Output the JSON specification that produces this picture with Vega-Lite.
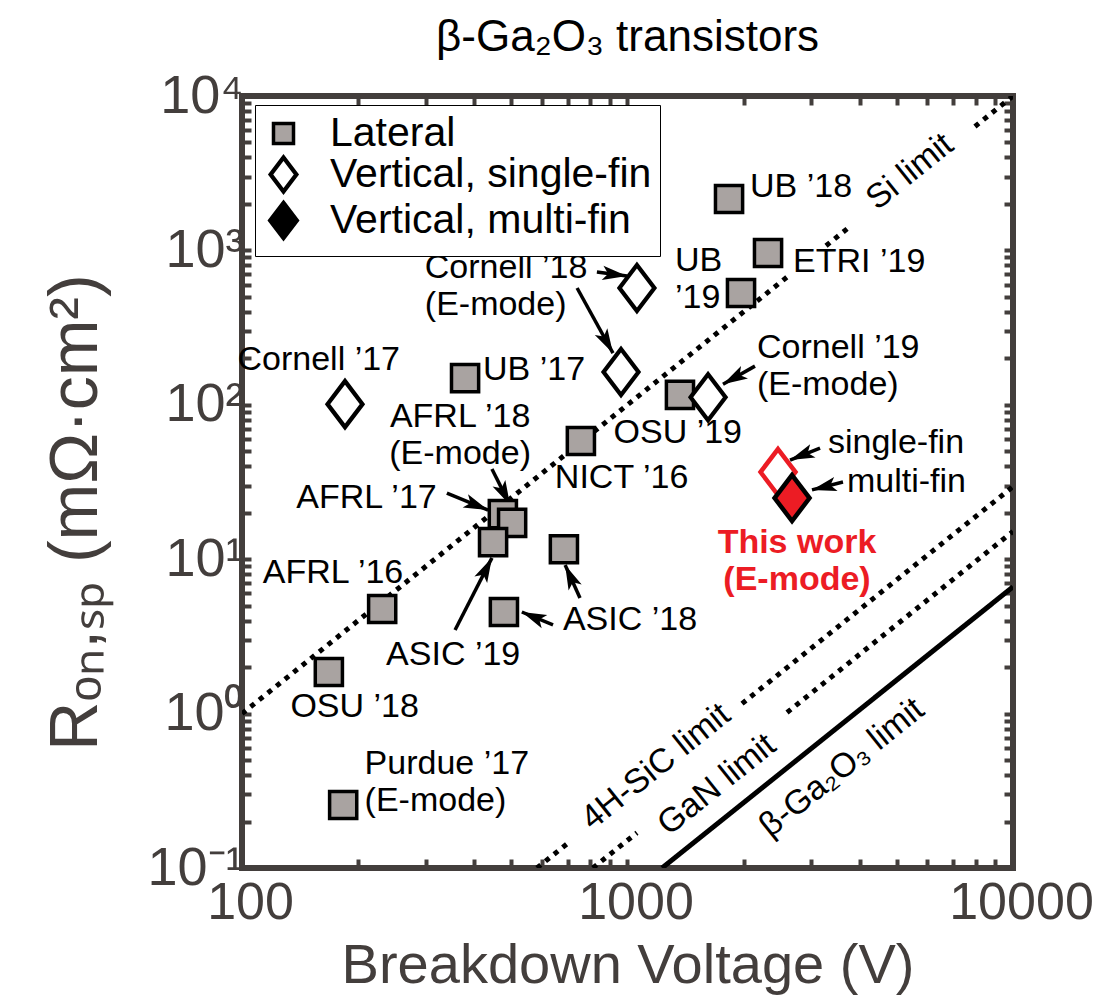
{
  "$schema": "https://vega.github.io/schema/vega-lite/v6.json",
  "width": 771,
  "height": 772,
  "autosize": "none",
  "padding": {"left": 242, "top": 96, "right": 90, "bottom": 136},
  "background": "white",
  "title": {"text": "β-Ga₂O₃ transistors", "fontSize": 44, "fontWeight": "normal", "font": "Liberation Sans", "color": "black", "offset": 9, "anchor": "middle"},
  "config": {
    "view": {"stroke": "#433e3c", "strokeWidth": 6},
    "font": "Liberation Sans"
  },
  "datasets": {
    "lines": [
      {"m": "Si", "seg": "Si1", "V": 100, "R": 1},
      {"m": "Si", "seg": "Si1", "V": 2640, "R": 697},
      {"m": "Si", "seg": "Si2", "V": 3273, "R": 1071},
      {"m": "Si", "seg": "Si2", "V": 3777, "R": 1427},
      {"m": "Si", "seg": "Si3", "V": 7966, "R": 6346},
      {"m": "Si", "seg": "Si3", "V": 10000, "R": 10000},
      {"m": "4H-SiC", "seg": "SiC1", "V": 582, "R": 0.1},
      {"m": "4H-SiC", "seg": "SiC1", "V": 713, "R": 0.150},
      {"m": "4H-SiC", "seg": "SiC2", "V": 1982, "R": 1.160},
      {"m": "4H-SiC", "seg": "SiC2", "V": 10000, "R": 29.52},
      {"m": "GaN", "seg": "GaN1", "V": 813, "R": 0.1},
      {"m": "GaN", "seg": "GaN1", "V": 1058, "R": 0.169},
      {"m": "GaN", "seg": "GaN2", "V": 2593, "R": 1.017},
      {"m": "GaN", "seg": "GaN2", "V": 10000, "R": 15.13},
      {"m": "Ga2O3", "seg": "Ga1", "V": 1229, "R": 0.1},
      {"m": "Ga2O3", "seg": "Ga1", "V": 10000, "R": 6.62}
    ],
    "points": [
      {"name": "UB ’18", "type": "Lateral", "V": 1834, "R": 2152},
      {"name": "ETRI ’19", "type": "Lateral", "V": 2315, "R": 962},
      {"name": "UB ’19", "type": "Lateral", "V": 1970, "R": 530},
      {"name": "UB ’17", "type": "Lateral", "V": 379, "R": 149},
      {"name": "OSU ’19", "type": "Lateral", "V": 1368, "R": 116},
      {"name": "NICT ’16", "type": "Lateral", "V": 757, "R": 58.3},
      {"name": "AFRL ’17", "type": "Lateral", "V": 475, "R": 19.6},
      {"name": "AFRL ’18", "type": "Lateral", "V": 502, "R": 17.2},
      {"name": "ASIC ’19", "type": "Lateral", "V": 448, "R": 12.9},
      {"name": "ASIC ’18", "type": "Lateral", "V": 684, "R": 11.6},
      {"name": "ASIC ’18", "type": "Lateral", "V": 478, "R": 4.55},
      {"name": "AFRL ’16", "type": "Lateral", "V": 231, "R": 4.76},
      {"name": "OSU ’18", "type": "Lateral", "V": 168, "R": 1.86},
      {"name": "Purdue ’17", "type": "Lateral", "V": 183, "R": 0.256},
      {"name": "Cornell ’17", "type": "Vertical, single-fin", "V": 185, "R": 101},
      {"name": "Cornell ’18", "type": "Vertical, single-fin", "V": 1058, "R": 571},
      {"name": "Cornell ’18", "type": "Vertical, single-fin", "V": 962, "R": 163},
      {"name": "Cornell ’19", "type": "Vertical, single-fin", "V": 1618, "R": 112}
    ],
    "thiswork": [
      {"type": "Vertical, single-fin", "V": 2457, "R": 36.7},
      {"type": "Vertical, multi-fin", "V": 2672, "R": 24.9}
    ],
    "arrows": [
      {"V1": 833, "R1": 725, "V2": 997, "R2": 683, "ang": 97},
      {"V1": 740, "R1": 571, "V2": 917, "R2": 216, "ang": 151},
      {"V1": 2141, "R1": 178, "V2": 1769, "R2": 136, "ang": -119},
      {"V1": 340, "R1": 26.8, "V2": 435, "R2": 20.8, "ang": 112},
      {"V1": 445, "R1": 38.4, "V2": 496, "R2": 22.4, "ang": 153},
      {"V1": 357, "R1": 3.48, "V2": 445, "R2": 10.2, "ang": 27},
      {"V1": 753, "R1": 5.61, "V2": 689, "R2": 9.17, "ang": -24},
      {"V1": 641, "R1": 3.75, "V2": 532, "R2": 4.55, "ang": -67},
      {"V1": 3158, "R1": 52.5, "V2": 2640, "R2": 43.9, "ang": -112},
      {"V1": 3622, "R1": 31.6, "V2": 3010, "R2": 28.1, "ang": -104}
    ],
    "labels": [
      {"label": "UB ’18", "pos": "left", "V": 2079, "R": 2574},
      {"label": "ETRI ’19", "pos": "left", "V": 2688, "R": 841},
      {"label": ["UB", "’19"], "pos": "left", "V": 1328, "R": 848},
      {"label": ["Cornell ’18", "(E-mode)"], "pos": "left", "V": 298, "R": 770},
      {"label": "UB ’17", "pos": "left", "V": 422, "R": 168},
      {"label": ["Cornell ’19", "(E-mode)"], "pos": "left", "V": 2167, "R": 233},
      {"label": "single-fin", "pos": "left", "V": 3312, "R": 56.6},
      {"label": "multi-fin", "pos": "left", "V": 3710, "R": 31.6},
      {"label": ["Purdue ’17", "(E-mode)"], "pos": "left", "V": 208, "R": 0.472},
      {"label": "ASIC ’18", "pos": "left", "V": 680, "R": 4.04},
      {"label": "NICT ’16", "pos": "left", "V": 648, "R": 33.6},
      {"label": "Cornell ’17", "pos": "right", "V": 257, "R": 195},
      {"label": "AFRL ’17", "pos": "right", "V": 320, "R": 24.9},
      {"label": "AFRL ’16", "pos": "right", "V": 262, "R": 8.14},
      {"label": "OSU ’19", "pos": "right", "V": 1982, "R": 65.7},
      {"label": ["AFRL ’18", "(E-mode)"], "pos": "center", "V": 368, "R": 83.3},
      {"label": "OSU ’18", "pos": "center", "V": 196, "R": 1.10},
      {"label": "ASIC ’19", "pos": "center", "V": 353, "R": 2.40},
      {"label": ["This work", "(E-mode)"], "pos": "red", "V": 2752, "R": 12.73}
    ],
    "limits": [
      {"label": "Si limit", "V": 5405, "R": 3220},
      {"label": "4H-SiC limit", "V": 1186, "R": 0.451},
      {"label": "GaN limit", "V": 1707, "R": 0.345},
      {"label": "β-Ga₂O₃ limit", "V": 3601, "R": 0.444}
    ]
  },
  "resolve": {"axis": {"x": "independent", "y": "independent"}},
  "layer": [
    {
      "data": {"name": "lines"},
      "mark": {"type": "line", "color": "black", "strokeWidth": 5, "clip": true},
      "encoding": {
        "x": {"field": "V", "type": "quantitative",
          "scale": {"type": "log", "domain": [100, 10000], "nice": false},
          "axis": {"orient": "bottom", "values": [100, 200, 300, 400, 500, 600, 700, 800, 900, 1000, 2000, 3000, 4000, 5000, 6000, 7000, 8000, 9000, 10000],
            "labelExpr": "datum.value === 100 ? '100' : datum.value === 1000 ? '1000' : datum.value === 10000 ? '10000' : ''",
            "domain": false, "grid": false, "tickSize": -9, "tickWidth": 4, "tickColor": "#433e3c",
            "labelFontSize": 52, "labelColor": "#433e3c", "labelFont": "Liberation Sans", "labelPadding": 18, "labelOffset": 8,
            "labelFlush": false, "labelOverlap": false, "labelBound": false,
            "title": "Breakdown Voltage (V)", "titleFontSize": 56, "titleFontWeight": "normal", "titleColor": "#433e3c", "titleFont": "Liberation Sans", "titlePadding": 10}},
        "y": {"field": "R", "type": "quantitative",
          "scale": {"type": "log", "domain": [0.1, 10000], "nice": false},
          "axis": {"orient": "left", "values": [0.1, 0.2, 0.3, 0.4, 0.5, 0.6, 0.7, 0.8, 0.9, 1, 2, 3, 4, 5, 6, 7, 8, 9, 10, 20, 30, 40, 50, 60, 70, 80, 90, 100, 200, 300, 400, 500, 600, 700, 800, 900, 1000, 2000, 3000, 4000, 5000, 6000, 7000, 8000, 9000, 10000],
            "labelExpr": "datum.value === 10000 ? '10⁴' : datum.value === 1000 ? '10³' : datum.value === 100 ? '10²' : datum.value === 10 ? '10¹' : datum.value === 1 ? '10⁰' : datum.value === 0.1 ? '10⁻¹' : ''",
            "domain": false, "grid": false, "tickSize": -9, "tickWidth": 4, "tickColor": "#433e3c",
            "labelFontSize": 54, "labelColor": "#433e3c", "labelFont": "Liberation Sans", "labelPadding": 8,
            "labelFlush": false, "labelOverlap": false, "labelBound": false,
            "title": "Rₒₙ,ₛₚ (mΩ·cm²)", "titleFontSize": 68, "titleFontWeight": "normal", "titleColor": "#433e3c", "titleFont": "Liberation Sans", "titlePadding": 36, "titleY": 416}},
        "detail": {"field": "seg", "type": "nominal"},
        "strokeDash": {"field": "m", "type": "nominal", "legend": null,
          "scale": {"domain": ["Si", "4H-SiC", "GaN", "Ga2O3"], "range": [[5, 6], [5, 6], [5, 6], [1, 0]]}}
      }
    },
    {
      "data": {"name": "arrows"},
      "mark": {"type": "rule", "color": "black", "strokeWidth": 3.5},
      "encoding": {
        "x": {"field": "V1", "type": "quantitative",
          "axis": {"orient": "top", "values": [100, 200, 300, 400, 500, 600, 700, 800, 900, 1000, 2000, 3000, 4000, 5000, 6000, 7000, 8000, 9000, 10000],
            "labels": false, "domain": false, "grid": false, "tickSize": -9, "tickWidth": 4, "tickColor": "#433e3c", "title": null}},
        "x2": {"field": "V2"},
        "y": {"field": "R1", "type": "quantitative",
          "axis": {"orient": "right", "values": [0.1, 0.2, 0.3, 0.4, 0.5, 0.6, 0.7, 0.8, 0.9, 1, 2, 3, 4, 5, 6, 7, 8, 9, 10, 20, 30, 40, 50, 60, 70, 80, 90, 100, 200, 300, 400, 500, 600, 700, 800, 900, 1000, 2000, 3000, 4000, 5000, 6000, 7000, 8000, 9000, 10000],
            "labels": false, "domain": false, "grid": false, "tickSize": -9, "tickWidth": 4, "tickColor": "#433e3c", "title": null}},
        "y2": {"field": "R2"}
      }
    },
    {
      "data": {"name": "arrows"},
      "mark": {"type": "point", "filled": true, "color": "black", "opacity": 1, "size": 2000, "shape": "M0,0L0.32,1.1L0,0.85L-0.32,1.1Z"},
      "encoding": {
        "x": {"field": "V2", "type": "quantitative", "axis": null},
        "y": {"field": "R2", "type": "quantitative", "axis": null},
        "angle": {"field": "ang", "type": "quantitative", "scale": null}
      }
    },
    {
      "data": {"name": "points"},
      "mark": {"type": "point", "filled": true, "stroke": "black", "opacity": 1, "size": 2116},
      "encoding": {
        "x": {"field": "V", "type": "quantitative", "axis": null},
        "y": {"field": "R", "type": "quantitative", "axis": null},
        "shape": {"field": "type", "type": "nominal",
          "scale": {"domain": ["Lateral", "Vertical, single-fin", "Vertical, multi-fin"], "range": ["M-0.59,-0.59L0.59,-0.59L0.59,0.59L-0.59,0.59Z", "M0,-1L0.76,0L0,1L-0.76,0Z", "M0,-1L0.76,0L0,1L-0.76,0Z"]},
          "legend": {"title": null, "orient": "none", "legendX": 13, "legendY": 9, "labelFontSize": 41, "labelFont": "Liberation Sans", "labelColor": "black", "symbolSize": 1150, "strokeColor": "black", "fillColor": "white", "padding": 8, "rowPadding": -9, "labelOffset": 26, "labelLimit": 600,
            "encode": {"legend": {"strokeWidth": {"value": 3}}, "symbols": {"stroke": {"value": "black"}, "strokeWidth": {"value": 4.5}, "opacity": {"value": 1}}}}},
        "fill": {"field": "type", "type": "nominal",
          "scale": {"domain": ["Lateral", "Vertical, single-fin", "Vertical, multi-fin"], "range": ["#a9a3a1", "white", "black"]},
          "legend": {"title": null, "orient": "none", "legendX": 13, "legendY": 9, "labelFontSize": 41, "labelFont": "Liberation Sans", "labelColor": "black", "symbolSize": 1150, "strokeColor": "black", "fillColor": "white", "padding": 8, "rowPadding": -9, "labelOffset": 26, "labelLimit": 600,
            "encode": {"legend": {"strokeWidth": {"value": 3}}, "symbols": {"stroke": {"value": "black"}, "strokeWidth": {"value": 4.5}, "opacity": {"value": 1}}}}},
        "strokeWidth": {"field": "type", "type": "ordinal", "legend": null,
          "scale": {"domain": ["Lateral", "Vertical, single-fin", "Vertical, multi-fin"], "range": [3.5, 5, 5]}}
      }
    },
    {
      "data": {"name": "thiswork"},
      "mark": {"type": "point", "filled": true, "opacity": 1, "size": 2116, "strokeWidth": 4.5, "shape": "M0,-1L0.76,0L0,1L-0.76,0Z"},
      "encoding": {
        "x": {"field": "V", "type": "quantitative", "axis": null},
        "y": {"field": "R", "type": "quantitative", "axis": null},
        "fill": {"condition": {"test": "datum.type === 'Vertical, multi-fin'", "value": "#ec1c24"}, "value": "white"},
        "stroke": {"condition": {"test": "datum.type === 'Vertical, multi-fin'", "value": "black"}, "value": "#ec1c24"}
      }
    },
    {
      "data": {"name": "labels"},
      "transform": [{"filter": "datum.pos === 'left'"}],
      "mark": {"type": "text", "align": "left", "baseline": "middle", "fontSize": 34, "font": "Liberation Sans", "color": "black", "lineHeight": 37},
      "encoding": {
        "x": {"field": "V", "type": "quantitative", "axis": null},
        "y": {"field": "R", "type": "quantitative", "axis": null},
        "text": {"field": "label", "type": "nominal"}
      }
    },
    {
      "data": {"name": "labels"},
      "transform": [{"filter": "datum.pos === 'right'"}],
      "mark": {"type": "text", "align": "right", "baseline": "middle", "fontSize": 34, "font": "Liberation Sans", "color": "black", "lineHeight": 37},
      "encoding": {
        "x": {"field": "V", "type": "quantitative", "axis": null},
        "y": {"field": "R", "type": "quantitative", "axis": null},
        "text": {"field": "label", "type": "nominal"}
      }
    },
    {
      "data": {"name": "labels"},
      "transform": [{"filter": "datum.pos === 'center'"}],
      "mark": {"type": "text", "align": "center", "baseline": "middle", "fontSize": 34, "font": "Liberation Sans", "color": "black", "lineHeight": 37},
      "encoding": {
        "x": {"field": "V", "type": "quantitative", "axis": null},
        "y": {"field": "R", "type": "quantitative", "axis": null},
        "text": {"field": "label", "type": "nominal"}
      }
    },
    {
      "data": {"name": "labels"},
      "transform": [{"filter": "datum.pos === 'red'"}],
      "mark": {"type": "text", "align": "center", "baseline": "middle", "fontSize": 34, "fontWeight": "bold", "font": "Liberation Sans", "color": "#ec1c24", "lineHeight": 37},
      "encoding": {
        "x": {"field": "V", "type": "quantitative", "axis": null},
        "y": {"field": "R", "type": "quantitative", "axis": null},
        "text": {"field": "label", "type": "nominal"}
      }
    },
    {
      "data": {"name": "limits"},
      "mark": {"type": "text", "align": "center", "baseline": "middle", "fontSize": 34, "font": "Liberation Sans", "color": "black", "angle": -38.7},
      "encoding": {
        "x": {"field": "V", "type": "quantitative", "axis": null},
        "y": {"field": "R", "type": "quantitative", "axis": null},
        "text": {"field": "label", "type": "nominal"}
      }
    }
  ]
}
